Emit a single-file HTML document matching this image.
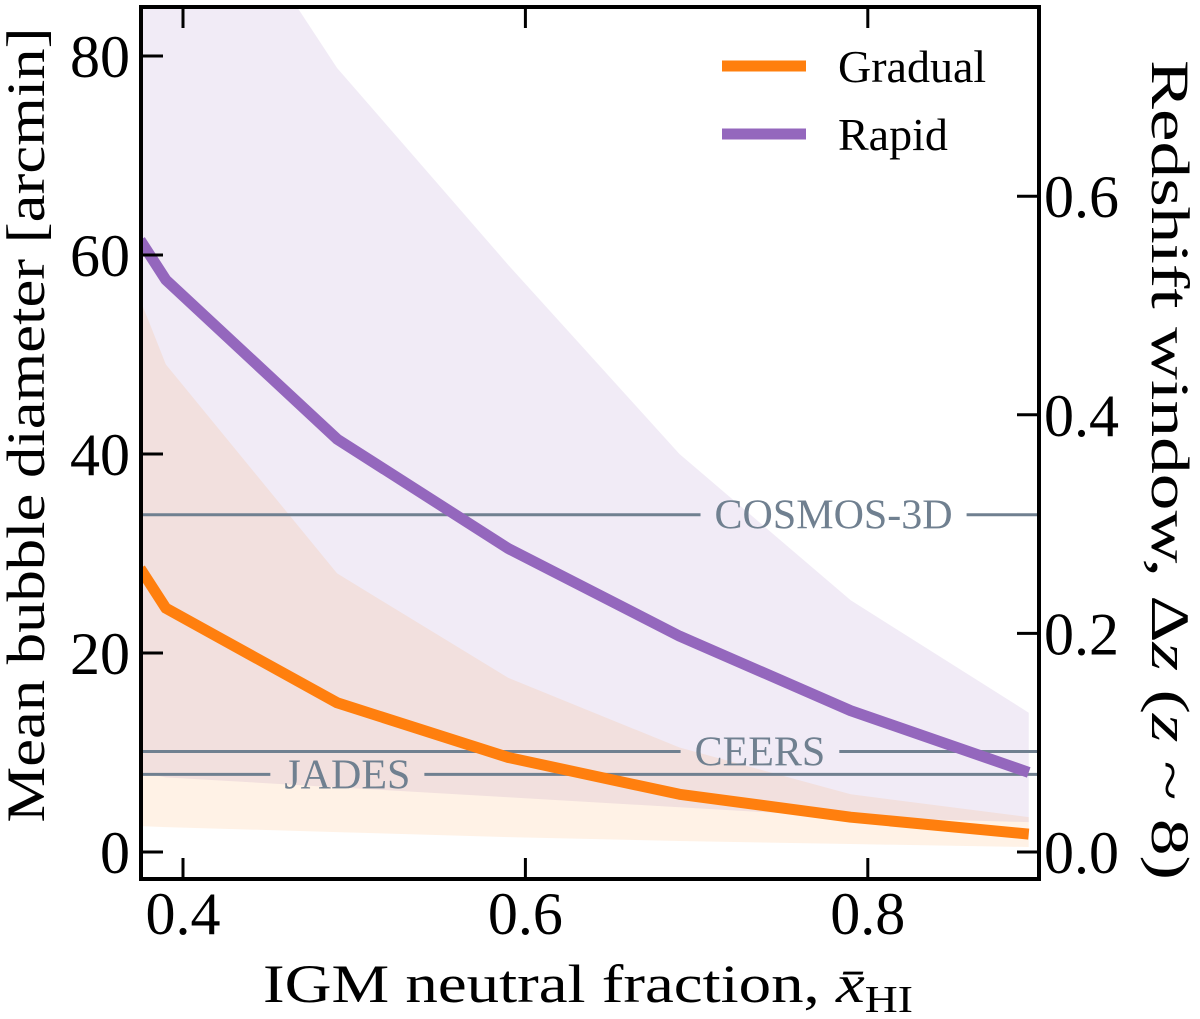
<!DOCTYPE html>
<html><head><meta charset="utf-8"><style>
html,body{margin:0;padding:0;background:#fff;}
svg, svg text{font-family:"Liberation Serif","Times New Roman",Times,serif;}
</style></head><body>
<svg id="chart" width="1200" height="1014" viewBox="0 0 1200 1014" xmlns="http://www.w3.org/2000/svg">
<defs><clipPath id="plotclip"><rect x="141" y="7" width="898" height="872"/></clipPath></defs>
<g id="bands" clip-path="url(#plotclip)"></g>
<g id="hlines"></g>
<g id="lines" clip-path="url(#plotclip)"></g>
<rect x="141" y="7" width="898" height="872" fill="none" stroke="#000" stroke-width="4"/>
<g id="ticks"></g>
<text x="44" y="425" font-size="54" text-anchor="middle" textLength="795" lengthAdjust="spacingAndGlyphs" transform="rotate(-90 44 425)">Mean bubble diameter [arcmin]</text>
<text x="1152" y="470" font-size="54" text-anchor="middle" textLength="820" lengthAdjust="spacingAndGlyphs" transform="rotate(90 1152 470)">Redshift window, Δ<tspan font-style="italic">z</tspan> (<tspan font-style="italic">z</tspan> ~ 8)</text>
<text x="588" y="1002" font-size="54" text-anchor="middle" textLength="650" lengthAdjust="spacingAndGlyphs">IGM neutral fraction, <tspan font-style="italic">x̄</tspan><tspan font-size="38" dy="10">HI</tspan></text>
<g>
<line x1="722" y1="66" x2="806" y2="66" stroke="#ff7f0e" stroke-width="11"/>
<text x="838" y="82" font-size="46">Gradual</text>
<line x1="722" y1="134" x2="806" y2="134" stroke="#9467bd" stroke-width="11"/>
<text x="838" y="150" font-size="46">Rapid</text>
</g>
</svg>
<script>
const xs = [0.375, 0.39, 0.49, 0.59, 0.69, 0.79, 0.894];
const rapid = [61.5, 57.5, 41.5, 30.5, 21.7, 14.2, 8];
const rapidHi = [120, 105, 78.8, 59, 40, 25.3, 14];
const rapidLo = [8, 7.5, 6.5, 5.5, 4.5, 3.5, 3];
const gradual = [28.5, 24.5, 15, 9.5, 5.8, 3.5, 1.8];
const gradualHi = [55.5, 49, 28, 17.5, 10.5, 5.8, 3.5];
const gradualLo = [2.6, 2.5, 2, 1.5, 1.1, 0.8, 0.5];
const surveyNames = ["COSMOS-3D", "CEERS", "JADES"];
const surveyValues = [33.9, 10.1, 7.8];
const surveyLabelX = [0.78, 0.737, 0.496];
const xTicks = [0.4, 0.6, 0.8];
const yTicks = [0, 20, 40, 60, 80];
const zTicks = [0.0, 0.2, 0.4, 0.6];

const NS = "http://www.w3.org/2000/svg";
const X = v => 183 + (v - 0.4) * 1712;
const Y = v => 852 - v * 9.95;
const Z = v => 852 - v * 1093;
function mk(tag, attrs, parent) {
  const e = document.createElementNS(NS, tag);
  for (const k in attrs) e.setAttribute(k, attrs[k]);
  parent.appendChild(e);
  return e;
}
const bands = document.getElementById('bands');
function band(hi, lo, fill, op, name) {
  let d = xs.map((x, i) => (i ? 'L' : 'M') + X(x) + ',' + Y(hi[i])).join('');
  for (let i = xs.length - 1; i >= 0; i--) d += 'L' + X(xs[i]) + ',' + Y(lo[i]);
  const p = mk('path', {d: d + 'Z', fill: fill, 'fill-opacity': op}, bands);
  
  
}
band(rapidHi, rapidLo, '#9467bd', 0.13, 'rapid-band');
band(gradualHi, gradualLo, '#ff7f0e', 0.1, 'gradual-band');

const hl = document.getElementById('hlines');
surveyNames.forEach((n, i) => {
  const y = Y(surveyValues[i]);
  const cx = X(surveyLabelX[i]);
  const t = mk('text', {x: cx, y: y + 14, 'font-size': 42, fill: '#708090', 'text-anchor': 'middle'}, hl);
  t.textContent = n;
  
  
  let half = n.length * 13;
  try { half = t.getComputedTextLength() / 2; } catch (e) {}
  half += 14;
  const l1 = mk('line', {x1: 141, y1: y, x2: cx - half, y2: y, stroke: '#708090', 'stroke-width': 3}, hl);
  
  
  const l2 = mk('line', {x1: cx + half, y1: y, x2: 1039, y2: y, stroke: '#708090', 'stroke-width': 3}, hl);
  
  
});

const lines = document.getElementById('lines');
function series(vals, color, name) {
  const p = mk('polyline', {points: xs.map((x, i) => X(x) + ',' + Y(vals[i])).join(' '), fill: 'none', stroke: color, 'stroke-width': 11, 'stroke-linejoin': 'round'}, lines);
  
  
}
series(gradual, '#ff7f0e', 'gradual-line');
series(rapid, '#9467bd', 'rapid-line');

const tk = document.getElementById('ticks');
xTicks.forEach(v => {
  const l = mk('line', {x1: X(v), y1: 879, x2: X(v), y2: 858, stroke: '#000', 'stroke-width': 3}, tk);
  
  
  const l2 = mk('line', {x1: X(v), y1: 7, x2: X(v), y2: 28, stroke: '#000', 'stroke-width': 3}, tk);
  
  
  const t = mk('text', {x: X(v), y: 934, 'font-size': 60, 'text-anchor': 'middle'}, tk);
  t.textContent = v.toFixed(1);
  
  
});
yTicks.forEach(v => {
  const l = mk('line', {x1: 141, y1: Y(v), x2: 163, y2: Y(v), stroke: '#000', 'stroke-width': 3}, tk);
  
  
  const t = mk('text', {x: 130, y: Y(v) + 21, 'font-size': 60, 'text-anchor': 'end'}, tk);
  t.textContent = v;
  
  
});
zTicks.forEach(v => {
  const l = mk('line', {x1: 1017, y1: Z(v), x2: 1039, y2: Z(v), stroke: '#000', 'stroke-width': 3}, tk);
  
  
  const t = mk('text', {x: 1044, y: Z(v) + 21, 'font-size': 60}, tk);
  t.textContent = v.toFixed(1);
  
  
});
</script>
</body></html>
